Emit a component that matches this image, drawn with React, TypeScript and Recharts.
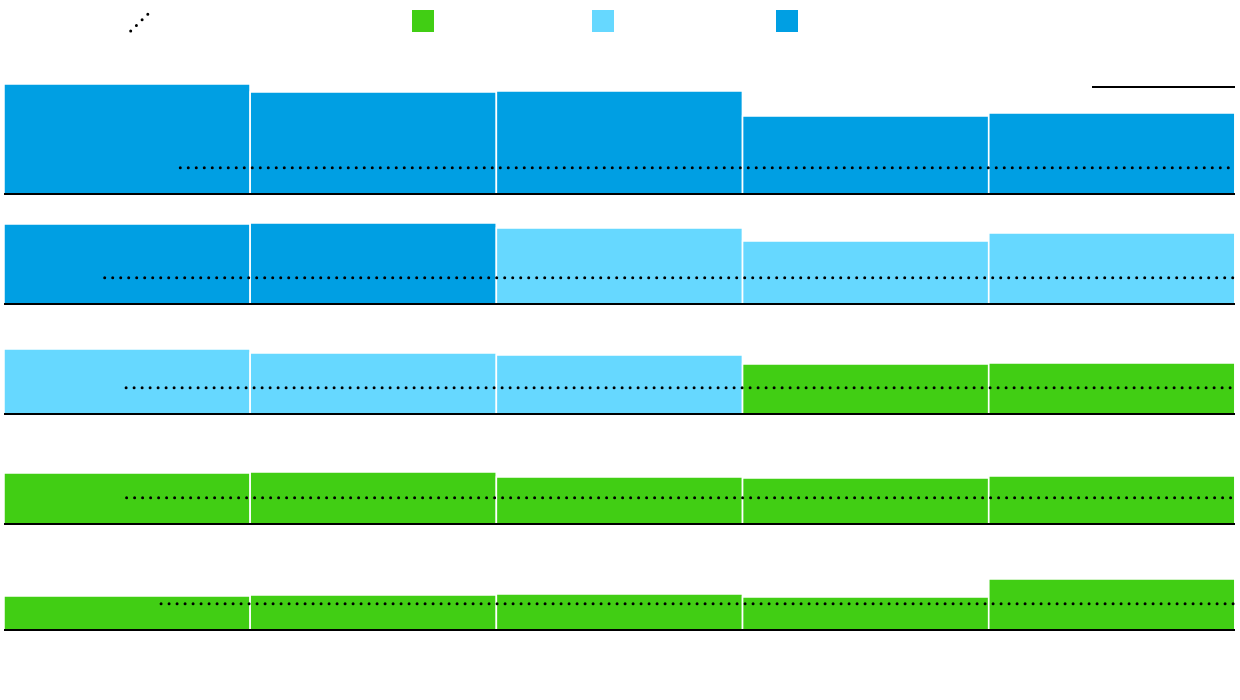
import React from "react";
import { BarChart, Bar, XAxis, YAxis, Cell, ReferenceLine } from "recharts";

// ---- data ----
const categories = ["P1", "P2", "P3", "P4", "P5"];

const row1Values = [11.0, 10.2, 10.3, 7.8, 8.1];
const row2Values = [8.0, 8.1, 7.6, 6.3, 7.1];
const row3Values = [6.5, 6.1, 5.9, 5.0, 5.1];
const row4Values = [5.1, 5.2, 4.7, 4.6, 4.8];
const row5Values = [3.4, 3.5, 3.6, 3.3, 5.1];

// which group each cell belongs to (0 = green, 1 = light blue, 2 = blue)
const row1Groups = [2, 2, 2, 2, 2];
const row2Groups = [2, 2, 1, 1, 1];
const row3Groups = [1, 1, 1, 0, 0];
const row4Groups = [0, 0, 0, 0, 0];
const row5Groups = [0, 0, 0, 0, 0];

// reference (dotted) line: value and start position (in category units)
const refValues = [2.62, 2.62, 2.62, 2.62, 2.62];
const refStarts = [0.716, 0.409, 0.496, 0.498, 0.638];

const groupNames = ["", "", ""];

// ---- styles / layout ----
const groupColors = ["#41CE14", "#66D8FF", "#009FE3"];
const rowBaselines = [194, 304, 414, 524, 630];
const legendX = [412, 592, 776];
const PLOT_H = 120;
const Y_MAX = 12;

const rows = [
  { values: row1Values, groups: row1Groups },
  { values: row2Values, groups: row2Groups },
  { values: row3Values, groups: row3Groups },
  { values: row4Values, groups: row4Groups },
  { values: row5Values, groups: row5Groups },
];

function Row({ idx }: { idx: number }) {
  const r = rows[idx];
  const data = categories.map((c, i) => ({ cat: c, pos: i + 0.5, v: r.values[i], g: r.groups[i] }));
  return (
    <div style={{ position: "absolute", left: 0, top: rowBaselines[idx] - PLOT_H }}>
      <BarChart
        width={1240}
        height={PLOT_H + 4}
        data={data}
        margin={{ top: 0, right: 5, bottom: 4, left: 4 }}
        barCategoryGap={0}
        barGap={0}
      >
        <XAxis xAxisId="c" dataKey="cat" hide />
        <XAxis xAxisId="n" dataKey="pos" type="number" domain={[0, 5]} allowDataOverflow hide />
        <YAxis hide domain={[0, Y_MAX]} allowDataOverflow />
        <Bar xAxisId="c" dataKey="v" isAnimationActive={false} stroke="#ffffff" strokeWidth={1.5}>
          {data.map((d, i) => (
            <Cell key={i} fill={groupColors[d.g]} />
          ))}
        </Bar>
        <ReferenceLine xAxisId="c" y={0} stroke="#000" strokeWidth={2} />
        <ReferenceLine
          xAxisId="n"
          ifOverflow="visible"
          segment={[
            { x: refStarts[idx], y: refValues[idx] },
            { x: 5, y: refValues[idx] },
          ]}
          stroke="#000"
          strokeWidth={3}
          strokeDasharray="0 8"
          strokeLinecap="round"
        />
      </BarChart>
    </div>
  );
}

export default function App() {
  return (
    <div style={{ position: "absolute", left: 0, top: 0, width: 1240, height: 700, background: "#fff", fontFamily: "Roboto, sans-serif" }}>
      <svg width={1240} height={100} style={{ position: "absolute", left: 0, top: 0 }}>
        <line x1={130.7} y1={31} x2={150} y2={12} stroke="#000" strokeWidth={3} strokeDasharray="0 8" strokeLinecap="round" />
        {groupNames.map((n, i) => (
          <g key={i}>
            <rect x={legendX[i]} y={10} width={22} height={22} fill={groupColors[i]} />
            <text x={legendX[i] + 28} y={26} fontSize={14}>{n}</text>
          </g>
        ))}
        <line x1={1092} y1={87} x2={1235} y2={87} stroke="#000" strokeWidth={2} />
      </svg>
      {rows.map((_, i) => (
        <Row key={i} idx={i} />
      ))}
    </div>
  );
}
